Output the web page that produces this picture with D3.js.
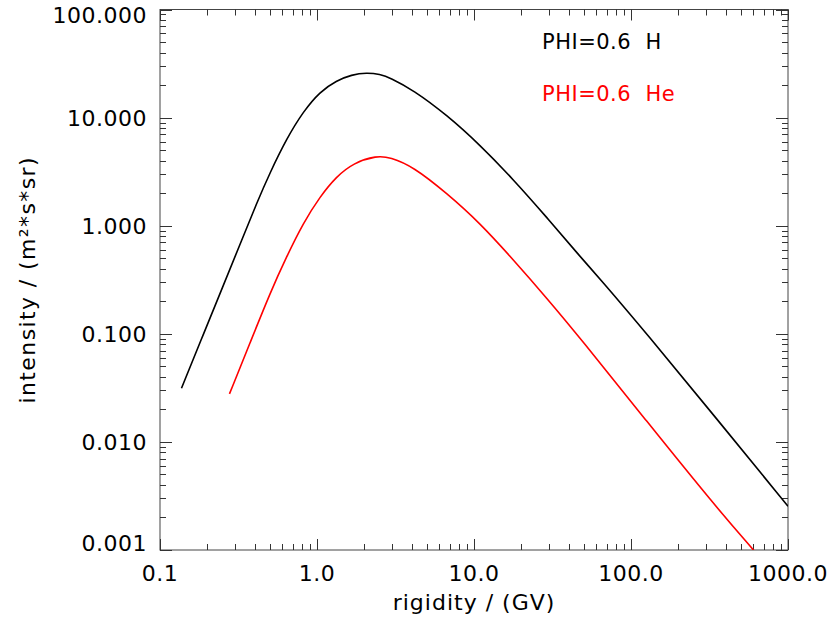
<!DOCTYPE html>
<html>
<head>
<meta charset="utf-8">
<script src="https://cdn.jsdelivr.net/npm/d3@7"></script>
<style>
  body { margin: 0; background: #fff; }
  text { font-family: "DejaVu Sans", sans-serif; white-space: pre; }
</style>
</head>
<body>
<script>
// values (rigidity in GV, intensity in 1/(m2 s sr))
const rigidityH = [0.137, 0.189, 0.253, 0.331, 0.413, 0.502, 0.641, 0.818, 1.045, 1.33, 1.66, 2.07, 2.52, 2.92, 4.1, 6.7, 10.9, 17.8, 29, 47.3, 63.5, 126, 334, 1000];
const intensityH = [0.0314, 0.099, 0.28, 0.73, 1.62, 3.1, 6.4, 11.4, 17.4, 22.0, 24.9, 26.1, 25.2, 23.4, 18.0, 10.6, 5.6, 2.68, 1.2, 0.52, 0.322, 0.1, 0.0179, 0.00254];

const rigidityHe = [0.277, 0.374, 0.502, 0.641, 0.818, 1.045, 1.33, 1.70, 2.40, 2.92, 4.1, 6.7, 10.9, 17.8, 29, 47.3, 126, 334, 610];
const intensityHe = [0.0278, 0.082, 0.238, 0.52, 1.06, 1.86, 2.85, 3.79, 4.45, 4.3, 3.52, 2.0, 1.06, 0.484, 0.215, 0.092, 0.0155, 0.00268, 0.00098];

const xMajor = [0.1, 1, 10, 100, 1000];
const xLabels = ["0.1", "1.0", "10.0", "100.0", "1000.0"];
const yMajor = [0.001, 0.01, 0.1, 1, 10, 100];
const yLabels = ["0.001", "0.010", "0.100", "1.000", "10.000", "100.000"];

const legendLabels = ["PHI=0.6  H", "PHI=0.6  He"];
const seriesColors = ["#000000", "#ff0000"];

const width = 833, height = 624;
const plotL = 160, plotR = 788, plotT = 9.5, plotB = 550;

const svg = d3.select("body").append("svg")
    .attr("width", width)
    .attr("height", height);

const x = d3.scaleLog().domain([0.1, 1000]).range([plotL, plotR]);
const y = d3.scaleLog().domain([0.001, 100]).range([plotB, plotT]);

svg.append("clipPath").attr("id", "plotClip")
    .append("rect")
    .attr("x", plotL).attr("y", plotT)
    .attr("width", plotR - plotL).attr("height", plotB - plotT);

// frame
svg.append("rect")
    .attr("x", plotL).attr("y", plotT)
    .attr("width", plotR - plotL).attr("height", plotB - plotT)
    .style("fill", "none")
    .style("stroke", "#444")
    .style("stroke-width", 1);

const isMajor = (v) => Math.abs(Math.log10(v) - Math.round(Math.log10(v))) < 1e-9;
const xTicks = x.ticks();
const yTicks = y.ticks();

function tickLines(g, vals, fn){
    g.selectAll("line").data(vals).enter().append("line")
        .each(function(d){ fn(d3.select(this), d, isMajor(d)); })
        .style("stroke", "#333")
        .style("stroke-width", 1);
}

const ticks = svg.append("g").attr("id", "ticks");
tickLines(ticks.append("g"), xTicks, (l, d, m) => {
    const px = Math.round(x(d)) + 0.5;
    l.attr("x1", px).attr("x2", px).attr("y1", plotB).attr("y2", plotB - (m ? 11 : 6));
});
tickLines(ticks.append("g"), xTicks, (l, d, m) => {
    const px = Math.round(x(d)) + 0.5;
    l.attr("x1", px).attr("x2", px).attr("y1", plotT).attr("y2", plotT + (m ? 11 : 6));
});
tickLines(ticks.append("g"), yTicks, (l, d, m) => {
    const py = Math.round(y(d)) + 0.5;
    l.attr("x1", plotL).attr("x2", plotL + (m ? 12 : 6)).attr("y1", py).attr("y2", py);
});
tickLines(ticks.append("g"), yTicks, (l, d, m) => {
    const py = Math.round(y(d)) + 0.5;
    l.attr("x1", plotR).attr("x2", plotR - (m ? 12 : 6)).attr("y1", py).attr("y2", py);
});

// tick labels
svg.append("g").selectAll("text")
    .data(xMajor).enter().append("text")
    .attr("x", (d) => x(d))
    .attr("y", 581)
    .attr("text-anchor", "middle")
    .style("font-size", "22px")
    .style("letter-spacing", "0.5px")
    .text((d, i) => xLabels[i]);

svg.append("g").selectAll("text")
    .data(yMajor).enter().append("text")
    .attr("x", 147)
    .attr("y", (d) => Math.max(23, Math.min(551, y(d) + 8)))
    .attr("text-anchor", "end")
    .style("font-size", "22px")
    .style("letter-spacing", "0.5px")
    .text((d, i) => yLabels[i]);

// axis titles
svg.append("text")
    .attr("x", (plotL + plotR) / 2)
    .attr("y", 610)
    .attr("text-anchor", "middle")
    .style("font-size", "22px")
    .style("letter-spacing", "1px")
    .text("rigidity / (GV)");

svg.append("text")
    .attr("transform", "translate(35," + (plotT + plotB) / 2 + ") rotate(-90)")
    .attr("text-anchor", "middle")
    .style("font-size", "22px")
    .style("letter-spacing", "1.4px")
    .text("intensity / (m\u00b2*s*sr)");

// curves
const line = d3.line()
    .x((d) => x(d[0]))
    .y((d) => y(d[1]))
    .curve(d3.curveBasis);

const series = [
    d3.zip(rigidityH, intensityH),
    d3.zip(rigidityHe, intensityHe)
];

svg.append("g").attr("clip-path", "url(#plotClip)")
    .selectAll("path")
    .data(series).enter().append("path")
    .attr("d", line)
    .style("fill", "none")
    .style("stroke", (d, i) => seriesColors[i])
    .style("stroke-width", 1.6);

// legend
svg.append("g").selectAll("text")
    .data(legendLabels).enter().append("text")
    .attr("x", 542)
    .attr("y", (d, i) => 49 + i * 52)
    .style("font-size", "21px")
    .style("letter-spacing", "0.5px")
    .style("fill", (d, i) => seriesColors[i])
    .text((d) => d);
</script>
</body>
</html>
